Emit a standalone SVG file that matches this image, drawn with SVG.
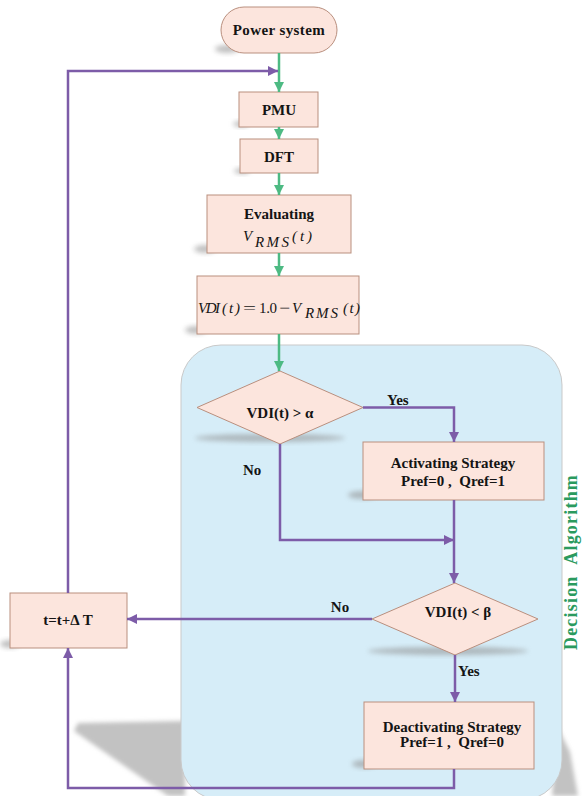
<svg xmlns="http://www.w3.org/2000/svg" width="582" height="796" viewBox="0 0 582 796">
<defs>
<style>
.box{fill:#fce5dd;stroke:#b98f7e;stroke-width:1}
.t{font-family:"Liberation Serif","Times New Roman",serif;font-weight:bold;font-size:15px;fill:#141414;text-anchor:middle}
.l{font-family:"Liberation Serif","Times New Roman",serif;font-weight:bold;font-size:15px;fill:#141414}
.m{font-family:"Liberation Serif","Times New Roman",serif;font-style:italic;font-size:15px;fill:#141414}
.n{font-family:"Liberation Serif","Times New Roman",serif;font-size:15px;fill:#141414}
.g{stroke:#4dba83;stroke-width:2.5;fill:none}
.p{stroke:#7d5ca8;stroke-width:2.5;fill:none}
.sh{fill:#8c8c8c;opacity:0.55;filter:url(#blur)}
</style>
<filter id="blur" x="-50%" y="-50%" width="200%" height="200%"><feGaussianBlur stdDeviation="2.5"/></filter>
<filter id="blur2" x="-50%" y="-50%" width="200%" height="200%"><feGaussianBlur stdDeviation="2"/></filter>
<marker id="ag" viewBox="0 0 10 10" refX="10" refY="5" markerWidth="4" markerHeight="4" orient="auto" markerUnits="strokeWidth"><path d="M0,0 L10,5 L0,10 z" fill="#4dba83"/></marker>
<marker id="ap" viewBox="0 0 10 10" refX="10" refY="5" markerWidth="4" markerHeight="4" orient="auto" markerUnits="strokeWidth"><path d="M0,0 L10,5 L0,10 z" fill="#7d5ca8"/></marker>
</defs>

<g id="decision-area">
<polygon points="78,723 185,721 185,796 168,796 74,731" fill="#c2c2c2" filter="url(#blur2)"/>
<polygon points="558,728 570,752 578,796 552,796" fill="#c2c2c2" filter="url(#blur2)"/>
<rect x="181" y="345" width="381" height="455" rx="40" fill="#d6edf8" stroke="#c9c9c9" stroke-width="1"/>
<text transform="translate(577,562) rotate(-90)" text-anchor="middle" font-family="'Liberation Serif','Times New Roman',serif" font-weight="bold" font-size="18" fill="#2a9a5e" letter-spacing="1.2" word-spacing="6">Decision Algorithm</text>
</g>

<g id="shadows">
<ellipse class="sh" cx="227" cy="49" rx="12" ry="4"/>
<ellipse class="sh" cx="241" cy="124" rx="8" ry="3"/>
<ellipse class="sh" cx="242" cy="171" rx="8" ry="3"/>
<ellipse class="sh" cx="205" cy="249" rx="11" ry="4"/>
<ellipse class="sh" cx="196" cy="330" rx="11" ry="4"/>
<ellipse class="sh" cx="270" cy="438" rx="75" ry="4"/>
<ellipse class="sh" cx="362" cy="495" rx="14" ry="4"/>
<ellipse class="sh" cx="448" cy="651" rx="80" ry="4"/>
<ellipse class="sh" cx="364" cy="764" rx="12" ry="4"/>
<ellipse class="sh" cx="10" cy="644" rx="10" ry="4"/>
</g>

<g id="power-system">
<rect class="box" x="221" y="7" width="116" height="46" rx="23"/>
<text class="t" x="279" y="35" letter-spacing="0.4">Power system</text>
</g>

<g id="pmu">
<rect class="box" x="239" y="92" width="79" height="35"/>
<text class="t" x="279" y="115">PMU</text>
</g>

<g id="dft">
<rect class="box" x="240" y="139" width="78" height="34"/>
<text class="t" x="279" y="162">DFT</text>
</g>

<g id="evaluating">
<rect class="box" x="207" y="195" width="144" height="58"/>
<text class="t" x="279" y="219">Evaluating</text>
<text class="m" x="243" y="241" font-size="16">V</text>
<text class="m" x="255" y="247" font-size="13" textLength="34" lengthAdjust="spacing">RMS</text>
<text class="m" x="292" y="241" textLength="20" lengthAdjust="spacing">(t)</text>
</g>

<g id="vdi-calc">
<rect class="box" x="197" y="276" width="162" height="58"/>
<text class="m" x="198" y="313" textLength="22" lengthAdjust="spacing">VDI</text>
<text class="m" x="222" y="313" textLength="18" lengthAdjust="spacing">(t)</text>
<text class="n" x="243" y="313" textLength="13" lengthAdjust="spacingAndGlyphs">=</text>
<text class="n" x="259" y="313" textLength="18" lengthAdjust="spacing">1.0</text>
<text class="n" x="279" y="313" textLength="11" lengthAdjust="spacingAndGlyphs">−</text>
<text class="m" x="292" y="313">V</text>
<text class="m" x="305" y="318" font-size="14" textLength="33" lengthAdjust="spacing">RMS</text>
<text class="m" x="343" y="313" textLength="17" lengthAdjust="spacing">(t)</text>
</g>

<g id="decision1">
<polygon class="box" points="280,371 363,407.5 280,444 197,407.5"/>
<text class="t" x="280" y="418">VDI(t) &gt; α</text>
</g>

<g id="activating">
<rect class="box" x="363" y="442" width="181" height="58"/>
<text class="t" x="453" y="468">Activating Strategy</text>
<text class="t" x="453" y="486" xml:space="preserve">Pref=0 ,  Qref=1</text>
</g>

<g id="decision2">
<polygon class="box" points="455,583 538,619 455,655 372,619"/>
<text class="t" x="458" y="617">VDI(t) &lt; β</text>
</g>

<g id="deactivating">
<rect class="box" x="364" y="702" width="170" height="67"/>
<text class="t" x="452" y="732">Deactivating Strategy</text>
<text class="t" x="452" y="747" xml:space="preserve">Pref=1 ,  Qref=0</text>
</g>

<g id="time-step">
<rect class="box" x="10" y="593" width="117" height="55"/>
<text class="t" x="68" y="625">t=t+Δ T</text>
</g>

<g id="connectors">
<line class="g" x1="279" y1="53" x2="279" y2="92" marker-end="url(#ag)"/>
<line class="g" x1="279" y1="127" x2="279" y2="139" marker-end="url(#ag)"/>
<line class="g" x1="279" y1="173" x2="279" y2="195" marker-end="url(#ag)"/>
<line class="g" x1="279" y1="253" x2="279" y2="276" marker-end="url(#ag)"/>
<line class="g" x1="279" y1="334" x2="279" y2="371" marker-end="url(#ag)"/>
<polyline class="p" points="68,593 68,71 278,71" marker-end="url(#ap)"/>
<polyline class="p" points="363,407.5 454,407.5 454,442" marker-end="url(#ap)"/>
<polyline class="p" points="280,444 280,540 454,540" marker-end="url(#ap)"/>
<line class="p" x1="454" y1="500" x2="454" y2="583" marker-end="url(#ap)"/>
<line class="p" x1="372" y1="619" x2="127" y2="619" marker-end="url(#ap)"/>
<line class="p" x1="455" y1="655" x2="455" y2="702" marker-end="url(#ap)"/>
<polyline class="p" points="454,769 454,788 68,788 68,648" marker-end="url(#ap)"/>
<text class="l" x="387" y="405">Yes</text>
<text class="l" x="243" y="475">No</text>
<text class="t" x="340" y="612">No</text>
<text class="l" x="458" y="676">Yes</text>
</g>
</svg>
